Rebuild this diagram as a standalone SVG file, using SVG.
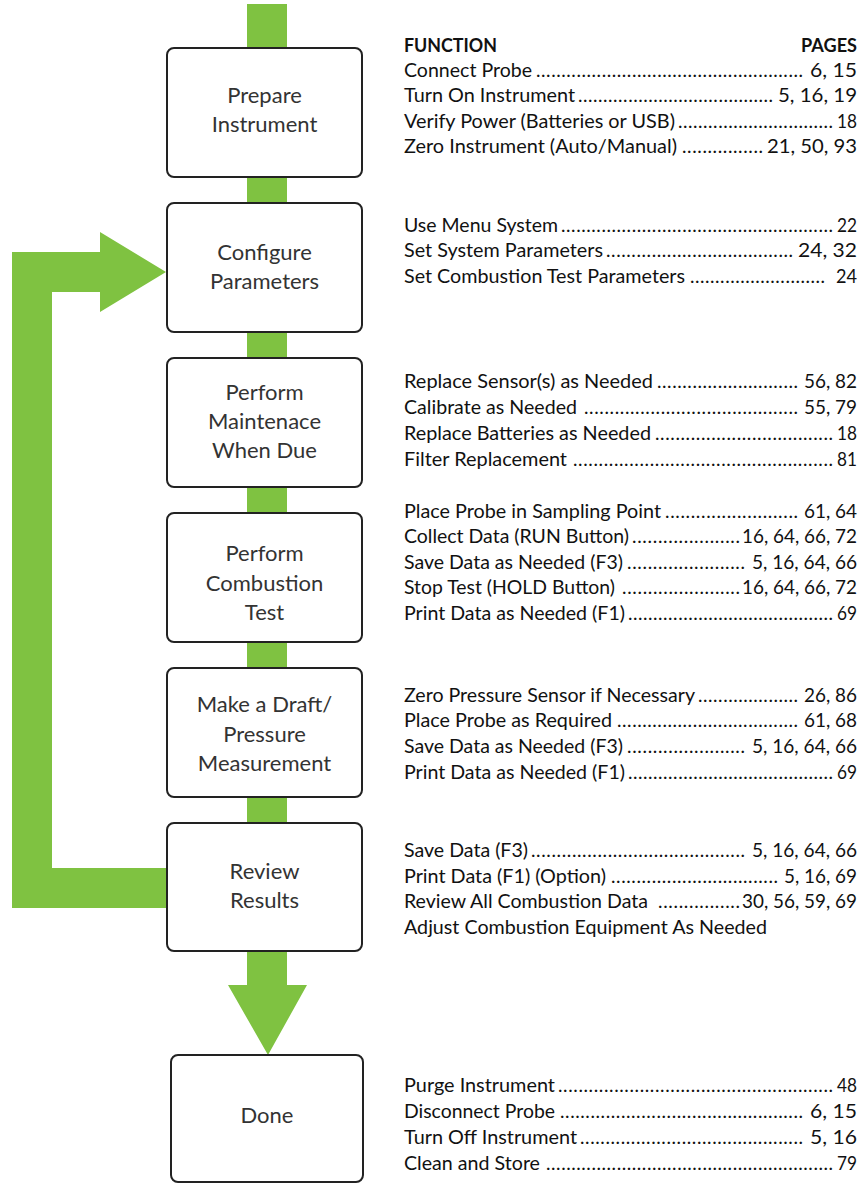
<svg xmlns="http://www.w3.org/2000/svg" width="862" height="1184" viewBox="0 0 862 1184">
<style>
.flow{fill:#7fc241}
.box rect{fill:#fff;stroke:#222;stroke-width:2}
.box text{font-family:Lato,"Open Sans",sans-serif;font-size:22px;fill:#333;text-anchor:middle}
.t{font-family:Lato,"Liberation Sans",sans-serif;font-size:19px;fill:#111}
.hd{font-weight:bold}
.pg{text-anchor:end}
</style>
<rect width="862" height="1184" fill="#fff"/>
<g id="connectors">
<rect class="flow" x="247" y="4" width="40" height="46"/>
<rect class="flow" x="247" y="175" width="40" height="30"/>
<rect class="flow" x="247" y="330" width="40" height="30"/>
<rect class="flow" x="247" y="485" width="40" height="30"/>
<rect class="flow" x="247" y="640" width="40" height="30"/>
<rect class="flow" x="247" y="795" width="40" height="30"/>
<polygon class="flow" points="168,868 52,868 52,292 100,292 100,312 166,272 100,232 100,252 12,252 12,908 168,908"/>
<polygon class="flow" points="247,950 287,950 287,985 307,985 268,1055 228,985 247,985"/>
</g>
<g id="node-prepare" class="box"><rect x="167" y="48" width="195" height="129" rx="7"/><text x="264.5" y="103">Prepare</text><text x="264.5" y="132">Instrument</text></g>
<g id="node-configure" class="box"><rect x="167" y="203" width="195" height="129" rx="7"/><text x="264.5" y="260">Configure</text><text x="264.5" y="289">Parameters</text></g>
<g id="node-maintenance" class="box"><rect x="167" y="358" width="195" height="129" rx="7"/><text x="264.5" y="400">Perform</text><text x="264.5" y="429">Maintenace</text><text x="264.5" y="458">When Due</text></g>
<g id="node-combustion" class="box"><rect x="167" y="513" width="195" height="129" rx="7"/><text x="264.5" y="561">Perform</text><text x="264.5" y="591">Combustion</text><text x="264.5" y="620">Test</text></g>
<g id="node-draft" class="box"><rect x="167" y="668" width="195" height="129" rx="7"/><text x="264.5" y="712">Make a Draft/</text><text x="264.5" y="742">Pressure</text><text x="264.5" y="771">Measurement</text></g>
<g id="node-review" class="box"><rect x="167" y="823" width="195" height="128" rx="7"/><text x="264.5" y="879">Review</text><text x="264.5" y="908">Results</text></g>
<g id="node-done" class="box"><rect x="171" y="1055" width="192" height="127" rx="7"/><text x="267" y="1123">Done</text></g>
<g id="function-list">
<text class="t hd" x="404" y="52" textLength="93" lengthAdjust="spacingAndGlyphs">FUNCTION</text>
<text class="t hd pg" x="857" y="52" textLength="56" lengthAdjust="spacingAndGlyphs">PAGES</text>

<text class="t" x="404" y="77" textLength="128" lengthAdjust="spacingAndGlyphs">Connect Probe</text>
<text class="t" x="536" y="77" textLength="267" lengthAdjust="spacing">.....................................................</text>
<text class="t pg" x="857" y="77" textLength="47" lengthAdjust="spacingAndGlyphs">6, 15</text>

<text class="t" x="404" y="102" textLength="171" lengthAdjust="spacingAndGlyphs">Turn On Instrument</text>
<text class="t" x="578" y="102" textLength="195" lengthAdjust="spacing">.......................................</text>
<text class="t pg" x="857" y="102" textLength="79" lengthAdjust="spacingAndGlyphs">5, 16, 19</text>

<text class="t" x="404" y="128" textLength="271" lengthAdjust="spacingAndGlyphs">Verify Power (Batteries or USB)</text>
<text class="t" x="678" y="128" textLength="155" lengthAdjust="spacing">...............................</text>
<text class="t pg" x="857" y="128" textLength="20" lengthAdjust="spacingAndGlyphs">18</text>

<text class="t" x="404" y="153" textLength="273" lengthAdjust="spacingAndGlyphs">Zero Instrument (Auto/Manual)</text>
<text class="t" x="682" y="153" textLength="81" lengthAdjust="spacing">................</text>
<text class="t pg" x="857" y="153" textLength="90" lengthAdjust="spacingAndGlyphs">21, 50, 93</text>

<text class="t" x="404" y="232" textLength="154" lengthAdjust="spacingAndGlyphs">Use Menu System</text>
<text class="t" x="561" y="232" textLength="272" lengthAdjust="spacing">......................................................</text>
<text class="t pg" x="857" y="232" textLength="20" lengthAdjust="spacingAndGlyphs">22</text>

<text class="t" x="404" y="257" textLength="199" lengthAdjust="spacingAndGlyphs">Set System Parameters</text>
<text class="t" x="606" y="257" textLength="187" lengthAdjust="spacing">.....................................</text>
<text class="t pg" x="857" y="257" textLength="59" lengthAdjust="spacingAndGlyphs">24, 32</text>

<text class="t" x="404" y="283" textLength="281" lengthAdjust="spacingAndGlyphs">Set Combustion Test Parameters</text>
<text class="t" x="690" y="283" textLength="135" lengthAdjust="spacing">...........................</text>
<text class="t pg" x="857" y="283" textLength="21" lengthAdjust="spacingAndGlyphs">24</text>

<text class="t" x="404" y="388" textLength="249" lengthAdjust="spacingAndGlyphs">Replace Sensor(s) as Needed</text>
<text class="t" x="657" y="388" textLength="141" lengthAdjust="spacing">............................</text>
<text class="t pg" x="857" y="388" textLength="53" lengthAdjust="spacingAndGlyphs">56, 82</text>

<text class="t" x="404" y="414" textLength="173" lengthAdjust="spacingAndGlyphs">Calibrate as Needed</text>
<text class="t" x="584" y="414" textLength="214" lengthAdjust="spacing">..........................................</text>
<text class="t pg" x="857" y="414" textLength="53" lengthAdjust="spacingAndGlyphs">55, 79</text>

<text class="t" x="404" y="440" textLength="247" lengthAdjust="spacingAndGlyphs">Replace Batteries as Needed</text>
<text class="t" x="655" y="440" textLength="178" lengthAdjust="spacing">...................................</text>
<text class="t pg" x="857" y="440" textLength="20" lengthAdjust="spacingAndGlyphs">18</text>

<text class="t" x="404" y="466" textLength="163" lengthAdjust="spacingAndGlyphs">Filter Replacement</text>
<text class="t" x="573" y="466" textLength="260" lengthAdjust="spacing">...................................................</text>
<text class="t pg" x="857" y="466" textLength="20" lengthAdjust="spacingAndGlyphs">81</text>

<text class="t" x="404" y="518" textLength="257" lengthAdjust="spacingAndGlyphs">Place Probe in Sampling Point</text>
<text class="t" x="665" y="518" textLength="133" lengthAdjust="spacing">..........................</text>
<text class="t pg" x="857" y="518" textLength="53" lengthAdjust="spacingAndGlyphs">61, 64</text>

<text class="t" x="404" y="543" textLength="225" lengthAdjust="spacingAndGlyphs">Collect Data (RUN Button)</text>
<text class="t" x="632" y="543" textLength="108" lengthAdjust="spacing">.....................</text>
<text class="t pg" x="857" y="543" textLength="115" lengthAdjust="spacingAndGlyphs">16, 64, 66, 72</text>

<text class="t" x="404" y="569" textLength="219" lengthAdjust="spacingAndGlyphs">Save Data as Needed (F3)</text>
<text class="t" x="627" y="569" textLength="118" lengthAdjust="spacing">.......................</text>
<text class="t pg" x="857" y="569" textLength="105" lengthAdjust="spacingAndGlyphs">5, 16, 64, 66</text>

<text class="t" x="404" y="594" textLength="211" lengthAdjust="spacingAndGlyphs">Stop Test (HOLD Button)</text>
<text class="t" x="622" y="594" textLength="118" lengthAdjust="spacing">.......................</text>
<text class="t pg" x="857" y="594" textLength="115" lengthAdjust="spacingAndGlyphs">16, 64, 66, 72</text>

<text class="t" x="404" y="620" textLength="221" lengthAdjust="spacingAndGlyphs">Print Data as Needed (F1)</text>
<text class="t" x="628" y="620" textLength="205" lengthAdjust="spacing">.........................................</text>
<text class="t pg" x="857" y="620" textLength="20" lengthAdjust="spacingAndGlyphs">69</text>

<text class="t" x="404" y="702" textLength="291" lengthAdjust="spacingAndGlyphs">Zero Pressure Sensor if Necessary</text>
<text class="t" x="698" y="702" textLength="100" lengthAdjust="spacing">....................</text>
<text class="t pg" x="857" y="702" textLength="53" lengthAdjust="spacingAndGlyphs">26, 86</text>

<text class="t" x="404" y="727" textLength="208" lengthAdjust="spacingAndGlyphs">Place Probe as Required</text>
<text class="t" x="617" y="727" textLength="181" lengthAdjust="spacing">....................................</text>
<text class="t pg" x="857" y="727" textLength="53" lengthAdjust="spacingAndGlyphs">61, 68</text>

<text class="t" x="404" y="753" textLength="219" lengthAdjust="spacingAndGlyphs">Save Data as Needed (F3)</text>
<text class="t" x="627" y="753" textLength="118" lengthAdjust="spacing">.......................</text>
<text class="t pg" x="857" y="753" textLength="105" lengthAdjust="spacingAndGlyphs">5, 16, 64, 66</text>

<text class="t" x="404" y="779" textLength="221" lengthAdjust="spacingAndGlyphs">Print Data as Needed (F1)</text>
<text class="t" x="628" y="779" textLength="205" lengthAdjust="spacing">.........................................</text>
<text class="t pg" x="857" y="779" textLength="20" lengthAdjust="spacingAndGlyphs">69</text>

<text class="t" x="404" y="857" textLength="124" lengthAdjust="spacingAndGlyphs">Save Data (F3)</text>
<text class="t" x="531" y="857" textLength="214" lengthAdjust="spacing">..........................................</text>
<text class="t pg" x="857" y="857" textLength="105" lengthAdjust="spacingAndGlyphs">5, 16, 64, 66</text>

<text class="t" x="404" y="883" textLength="202" lengthAdjust="spacingAndGlyphs">Print Data (F1) (Option)</text>
<text class="t" x="611" y="883" textLength="167" lengthAdjust="spacing">.................................</text>
<text class="t pg" x="857" y="883" textLength="73" lengthAdjust="spacingAndGlyphs">5, 16, 69</text>

<text class="t" x="404" y="908" textLength="244" lengthAdjust="spacingAndGlyphs">Review All Combustion Data</text>
<text class="t" x="658" y="908" textLength="82" lengthAdjust="spacing">................</text>
<text class="t pg" x="857" y="908" textLength="115" lengthAdjust="spacingAndGlyphs">30, 56, 59, 69</text>

<text class="t" x="404" y="934" textLength="363" lengthAdjust="spacingAndGlyphs">Adjust Combustion Equipment As Needed</text>

<text class="t" x="404" y="1092" textLength="151" lengthAdjust="spacingAndGlyphs">Purge Instrument</text>
<text class="t" x="558" y="1092" textLength="275" lengthAdjust="spacing">......................................................</text>
<text class="t pg" x="857" y="1092" textLength="20" lengthAdjust="spacingAndGlyphs">48</text>

<text class="t" x="404" y="1118" textLength="151" lengthAdjust="spacingAndGlyphs">Disconnect Probe</text>
<text class="t" x="560" y="1118" textLength="243" lengthAdjust="spacing">................................................</text>
<text class="t pg" x="857" y="1118" textLength="47" lengthAdjust="spacingAndGlyphs">6, 15</text>

<text class="t" x="404" y="1144" textLength="173" lengthAdjust="spacingAndGlyphs">Turn Off Instrument</text>
<text class="t" x="580" y="1144" textLength="223" lengthAdjust="spacing">............................................</text>
<text class="t pg" x="857" y="1144" textLength="47" lengthAdjust="spacingAndGlyphs">5, 16</text>

<text class="t" x="404" y="1170" textLength="136" lengthAdjust="spacingAndGlyphs">Clean and Store</text>
<text class="t" x="546" y="1170" textLength="287" lengthAdjust="spacing">.........................................................</text>
<text class="t pg" x="857" y="1170" textLength="20" lengthAdjust="spacingAndGlyphs">79</text>
</g>
</svg>
